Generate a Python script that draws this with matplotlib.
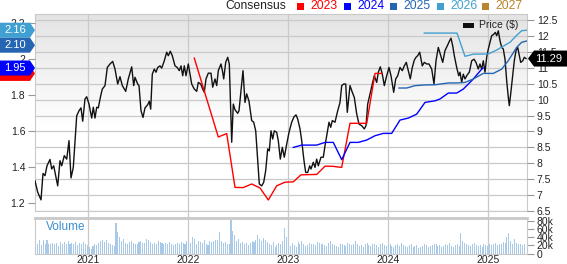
import numpy as np
import matplotlib
matplotlib.use('Agg')
import matplotlib.pyplot as plt
from matplotlib.patches import Polygon, Rectangle
from matplotlib.lines import Line2D
from matplotlib.colors import LinearSegmentedColormap
import matplotlib.transforms as mtransforms

plt.rcParams['font.family'] = ['Liberation Sans', 'DejaVu Sans']

# ---------------- data ----------------
price_t = [2020.470, 2020.497, 2020.530, 2020.550, 2020.570, 2020.590, 2020.620, 2020.637, 2020.657, 2020.697,
           2020.720, 2020.737, 2020.763, 2020.787, 2020.810, 2020.830, 2020.853, 2020.887, 2020.910, 2020.930,
           2020.947, 2020.970, 2020.987, 2021.010, 2021.037, 2021.053, 2021.070, 2021.087, 2021.103, 2021.127,
           2021.143, 2021.170, 2021.193, 2021.220, 2021.247, 2021.270, 2021.297, 2021.320, 2021.343, 2021.377,
           2021.403, 2021.437, 2021.457, 2021.470, 2021.497, 2021.510, 2021.530, 2021.550, 2021.570, 2021.597,
           2021.613, 2021.627, 2021.643, 2021.663, 2021.680, 2021.697, 2021.720, 2021.737, 2021.763, 2021.787,
           2021.803, 2021.823, 2021.843, 2021.870, 2021.893, 2021.913, 2021.930, 2021.947, 2021.963, 2021.980,
           2022.003, 2022.020, 2022.037, 2022.063, 2022.087, 2022.103, 2022.127, 2022.147, 2022.163, 2022.180,
           2022.203, 2022.230, 2022.247, 2022.270, 2022.287, 2022.303, 2022.330, 2022.347, 2022.357, 2022.377,
           2022.397, 2022.413, 2022.437, 2022.453, 2022.470, 2022.497, 2022.510, 2022.530, 2022.550, 2022.570,
           2022.587, 2022.610, 2022.637, 2022.657, 2022.677, 2022.697, 2022.713, 2022.737, 2022.757, 2022.777,
           2022.797, 2022.813, 2022.830, 2022.847, 2022.863, 2022.887, 2022.903, 2022.923, 2022.943, 2022.963,
           2022.987, 2023.010, 2023.037, 2023.060, 2023.080, 2023.097, 2023.120, 2023.137, 2023.160, 2023.177,
           2023.197, 2023.217, 2023.230, 2023.253, 2023.270, 2023.287, 2023.303, 2023.330, 2023.353, 2023.370,
           2023.390, 2023.410, 2023.427, 2023.443, 2023.470, 2023.497, 2023.520, 2023.537, 2023.557, 2023.577,
           2023.593, 2023.620, 2023.643, 2023.663, 2023.687, 2023.710, 2023.737, 2023.763, 2023.780, 2023.797,
           2023.820, 2023.843, 2023.863, 2023.887, 2023.903, 2023.923, 2023.943, 2023.963, 2023.987, 2024.010,
           2024.030, 2024.057, 2024.077, 2024.097, 2024.120, 2024.143, 2024.163, 2024.183, 2024.203, 2024.223,
           2024.243, 2024.263, 2024.280, 2024.297, 2024.317, 2024.343, 2024.363, 2024.387, 2024.410, 2024.437,
           2024.447, 2024.460, 2024.480, 2024.503, 2024.527, 2024.547, 2024.570, 2024.593, 2024.613, 2024.630,
           2024.647, 2024.663, 2024.687, 2024.707, 2024.720, 2024.737, 2024.753, 2024.770, 2024.793, 2024.813,
           2024.837, 2024.860, 2024.880, 2024.903, 2024.920, 2024.937, 2024.953, 2024.970, 2024.987, 2025.003,
           2025.020, 2025.037, 2025.053, 2025.073, 2025.087, 2025.103, 2025.120, 2025.137, 2025.153, 2025.170,
           2025.187, 2025.203, 2025.213, 2025.227, 2025.247, 2025.263, 2025.280, 2025.297, 2025.313, 2025.327,
           2025.347, 2025.363, 2025.380]
price_v = [7.45, 7.09, 6.85, 7.68, 7.61, 7.92, 8.12, 7.82, 7.92, 7.29,
           8.08, 7.92, 8.24, 8.13, 8.71, 7.54, 7.87, 9.49, 9.65, 9.74,
           9.32, 10.02, 10.09, 9.86, 9.42, 9.76, 9.42, 9.76, 9.74, 10.12,
           10.33, 10.44, 11.01, 11.12, 11.20, 10.96, 10.49, 10.72, 10.44, 10.26,
           10.65, 11.03, 10.44, 10.70, 10.49, 10.44, 9.65, 9.44, 9.74, 9.84,
           9.95, 9.70, 10.80, 10.96, 10.86, 11.01, 11.06, 10.99, 11.22, 11.49,
           11.38, 11.52, 11.38, 11.06, 11.01, 10.91, 11.06, 10.75, 11.06, 10.75,
           11.12, 10.80, 10.49, 10.33, 10.26, 10.54, 10.49, 10.33, 10.23, 10.65,
           10.83, 10.83, 10.39, 10.65, 10.44, 10.91, 11.12, 10.86, 10.65, 11.17,
           11.33, 11.12, 8.66, 9.86, 9.68, 9.57, 9.65, 10.28, 10.91, 9.91,
           10.18, 9.95, 9.34, 9.29, 9.02, 8.08, 7.35, 7.29, 7.40, 7.77,
           8.45, 8.39, 9.02, 8.76, 9.02, 8.97, 8.71, 8.13, 8.50, 8.19,
           8.60, 8.97, 9.29, 9.46, 9.52, 9.39, 9.08, 8.71, 8.08, 7.71,
           7.71, 7.92, 7.82, 8.03, 7.87, 8.13, 7.92, 8.19, 8.19, 8.55,
           8.92, 9.29, 9.13, 9.34, 9.29, 9.65, 9.91, 10.44, 10.49, 10.49,
           9.60, 10.44, 10.23, 10.07, 9.55, 9.23, 9.18, 9.08, 9.18, 9.86,
           10.18, 10.49, 10.75, 10.54, 10.86, 11.03, 10.80, 10.44, 10.75, 11.01,
           10.75, 10.23, 10.65, 10.75, 11.01, 10.91, 11.06, 11.17, 10.91, 10.65,
           11.01, 11.24, 11.33, 11.38, 11.49, 11.06, 11.17, 11.12, 11.12, 10.96,
           10.75, 10.49, 11.22, 11.64, 11.38, 11.17, 11.54, 11.69, 11.83, 11.93,
           11.69, 11.38, 11.01, 10.75, 10.86, 10.54, 10.80, 10.65, 10.78, 10.86,
           11.22, 11.27, 11.17, 10.96, 11.12, 10.96, 11.22, 10.86, 11.33, 11.59,
           11.80, 12.01, 12.04, 12.11, 12.01, 12.16, 11.85, 11.64, 11.59, 11.27,
           10.59, 10.07, 9.81, 10.18, 10.75, 11.22, 11.54, 11.64, 11.38, 11.17,
           11.22, 11.33, 11.29]

eps2023_t = [2022.063, 2022.187, 2022.303, 2022.387, 2022.470, 2022.553, 2022.637, 2022.720, 2022.803, 2022.887,
             2022.970, 2023.053, 2023.130, 2023.210, 2023.287, 2023.370, 2023.450, 2023.537, 2023.620, 2023.700,
             2023.787, 2023.870, 2023.937]
eps2023_v = [2.005, 1.778, 1.567, 1.586, 1.287, 1.286, 1.306, 1.284, 1.217, 1.296,
             1.316, 1.318, 1.357, 1.358, 1.359, 1.405, 1.404, 1.398, 1.643, 1.643,
             1.643, 1.920, 1.920]

eps2024_t = [2023.053, 2023.137, 2023.287, 2023.370, 2023.453, 2023.537, 2023.620, 2023.703, 2023.787, 2023.870,
             2023.953, 2024.037, 2024.120, 2024.203, 2024.287, 2024.370, 2024.470, 2024.520, 2024.603, 2024.687,
             2024.753, 2024.853, 2024.937, 2024.950]
eps2024_v = [1.509, 1.522, 1.522, 1.537, 1.537, 1.441, 1.537, 1.537, 1.550, 1.574,
             1.587, 1.587, 1.661, 1.672, 1.694, 1.759, 1.768, 1.778, 1.811, 1.811,
             1.833, 1.889, 1.944, 1.950]

eps2025_t = [2024.110, 2024.187, 2024.270, 2024.370, 2024.470, 2024.603, 2024.687, 2024.770, 2024.853, 2024.953,
             2025.053, 2025.137, 2025.203, 2025.287, 2025.337, 2025.387]
eps2025_v = [1.839, 1.839, 1.852, 1.856, 1.857, 1.867, 1.867, 1.870, 1.889, 1.920,
             1.920, 1.944, 1.991, 2.065, 2.093, 2.100]

eps2026_t = [2024.363, 2024.520, 2024.690, 2024.770, 2024.853, 2025.003, 2025.087, 2025.220, 2025.293, 2025.337,
             2025.387]
eps2026_v = [2.144, 2.144, 2.144, 2.015, 2.027, 2.028, 2.050, 2.093, 2.135, 2.157, 2.160]

last_price = 11.29

# weekly volume (thousands), first week ending mid-June 2020
vol_start = 2020.475
vol_k = [37, 22, 32, 20, 34, 24, 33, 22, 24, 25, 23, 26, 18, 28, 22, 27, 24, 30, 22, 26, 24, 28, 20, 25, 22, 27, 24, 20,
         15, 12, 18, 22, 20, 25, 30, 34, 28, 32, 26, 22, 20, 18, 75, 52, 40, 30, 35, 25, 22, 28, 30, 26, 24, 22, 28, 30,
         25, 26, 35, 32, 28, 24, 26, 22, 30, 28, 25, 22, 26, 24, 28, 22, 20, 24, 26, 22, 28, 25, 24, 30,
         28, 25, 40, 35, 22, 30, 28, 26, 32, 24, 20, 30, 28, 30, 33, 34, 52, 30, 26, 28, 22, 24, 82, 55, 45, 30, 35, 25,
         28, 22, 26, 20, 25, 30, 28, 34, 45, 35, 30, 38, 32, 28, 24, 20, 28, 15, 20, 25, 22, 30, 63, 40,
         22, 18, 25, 20, 16, 28, 24, 30, 22, 18, 20, 26, 24, 22, 20, 28, 25, 22, 24, 20, 18, 25, 30, 22, 20, 18, 16, 22,
         24, 20, 18, 26, 22, 20, 24, 30, 22, 18, 20, 16, 22, 25, 20, 18, 22, 24, 20, 16, 22, 25, 20, 18,
         20, 22, 18, 16, 20, 22, 18, 25, 20, 18, 15, 20, 22, 16, 18, 20, 14, 16, 18, 22, 20, 16, 18, 20, 22, 24, 18, 20,
         16, 18, 22, 20, 25, 18, 16, 20, 22, 18, 49, 30, 25, 22, 20, 18, 22, 25, 20, 18, 20, 16, 22, 20,
         18, 22, 20, 22, 25, 20, 24, 22, 28, 25, 40, 50, 30, 22, 35, 25, 22, 24, 20, 22]

years = [2021, 2022, 2023, 2024, 2025]
price_ticks = [6.5, 7, 7.5, 8, 8.5, 9, 9.5, 10, 10.5, 11, 11.5, 12, 12.5]
eps_ticks = [1.2, 1.4, 1.6, 1.8, 2.0, 2.2]
vol_ticks = [0, 20, 40, 60, 80]

legend_years = ['2023', '2024', '2025', '2026', '2027']
legend_colors = ['#ff0000', '#0000ff', '#2565b2', '#41a0d2', '#b8862e']

# ---------------- layout ----------------
W, H = 567, 264
fig = plt.figure(figsize=(W / 100, H / 100), dpi=100)
fig.patch.set_facecolor('white')

def fx(px):
    return px / W

def fy(py):
    return 1 - py / H

L, R = 35, 527
P_TOP, P_BOT = 14, 211
V_TOP, V_BOT = 218, 253.5
XMIN, XMAX = 2020.47, 2025.39
GRID = '#c9c9c9'
TXT = '#222222'

ax = fig.add_axes([fx(L), fy(P_BOT), (R - L) / W, (P_BOT - P_TOP) / H])
ax2 = ax.twinx()
axv = fig.add_axes([fx(L), fy(V_BOT), (R - L) / W, (V_BOT - V_TOP) / H])

ax.set_xlim(XMIN, XMAX)
ax.set_ylim(6.5, 12.69)
ax2.set_ylim(1.156, 2.25)
axv.set_xlim(XMIN, XMAX)
axv.set_ylim(0, 86.6)

# gradient background
grad = np.linspace(0, 1, 256)[:, None]
cmap = LinearSegmentedColormap.from_list('bg', [(0, '#ffffff'), (0.42, '#ffffff'), (1.0, '#e4e4e4')])
ax.imshow(grad, extent=[XMIN, XMAX, 6.5, 12.69], origin='lower', aspect='auto', cmap=cmap, zorder=0)

ax.set_yticks(price_ticks)
ax.set_yticklabels([('%g' % t) for t in price_ticks])
ax.yaxis.tick_right()
ax.set_xticks(years)
ax.tick_params(axis='x', length=0, labelbottom=False)
ax.tick_params(axis='y', length=5, color='#999999', labelsize=7.5, labelcolor=TXT, pad=2)
ax.grid(True, color=GRID, lw=0.9, zorder=1)
ax.set_axisbelow(False)
for s in ax.spines.values():
    s.set_color(GRID)

ax2.set_yticks(eps_ticks)
ax2.set_yticklabels([('%g' % t) for t in eps_ticks])
ax2.yaxis.tick_left()
ax2.tick_params(axis='y', length=5, color='#999999', labelsize=7.5, labelcolor=TXT, pad=2)
for s in ax2.spines.values():
    s.set_visible(False)

# price line
ax.plot(price_t, price_v, color='#111111', lw=1.0, zorder=3)

# EPS consensus lines
ax2.plot(eps2023_t, eps2023_v, color=legend_colors[0], lw=1.0, zorder=3)
ax2.plot(eps2024_t, eps2024_v, color=legend_colors[1], lw=1.0, zorder=3)
ax2.plot(eps2025_t, eps2025_v, color=legend_colors[2], lw=1.0, zorder=3)
ax2.plot(eps2026_t, eps2026_v, color=legend_colors[3], lw=1.0, zorder=3)

# volume
vol_t = vol_start + np.arange(len(vol_k)) / 52.18
axv.bar(vol_t, vol_k, width=0.55 / 52.18, color='#a9c9e8', zorder=2)
axv.set_xticks(years)
axv.set_xticklabels([str(y) for y in years])
axv.tick_params(axis='x', length=0, labelsize=7.5, labelcolor=TXT, pad=1.2)
axv.set_yticks(vol_ticks)
axv.set_yticklabels(['0' if v == 0 else '%dk' % v for v in vol_ticks])
axv.yaxis.tick_right()
axv.tick_params(axis='y', length=5, color='#999999', labelsize=7.5, labelcolor=TXT, pad=2)
axv.grid(True, axis='x', color=GRID, lw=0.9, zorder=1)
for s in axv.spines.values():
    s.set_color(GRID)
axv.spines['top'].set_linewidth(2)
axv.text(0.022, 0.74, 'Volume', transform=axv.transAxes, color='#3b8fd2', fontsize=8.5, va='center', ha='left')

# vertical grid lines through the gap between panels
bt = mtransforms.blended_transform_factory(ax.transData, fig.transFigure)
for y in years:
    fig.add_artist(Line2D([y, y], [fy(V_TOP), fy(P_BOT)], transform=bt, color=GRID, lw=0.9))

# ---------------- labels on axes ----------------
fig.canvas.draw()

def data_to_pxy(axis, val):
    disp = axis.transData.transform((XMIN, val))[1]
    return H - disp

def left_box(yc, color, text, z):
    h = 15
    pts = [(0, yc - h / 2), (30, yc - h / 2), (35, yc), (30, yc + h / 2), (0, yc + h / 2)]
    fig.add_artist(Polygon([(fx(a), fy(b)) for a, b in pts], closed=True, transform=fig.transFigure,
                           fc=color, ec='none', zorder=z))
    if text:
        fig.text(fx(15), fy(yc), text, color='white', ha='center', va='center', fontsize=8, zorder=z + 0.5)

# 2023 label sits beneath 2024 label
left_box(data_to_pxy(ax2, eps2023_v[-1]), legend_colors[0], None, 5)
labels = [(eps2026_v[-1], legend_colors[3], '%.2f' % 2.16),
          (eps2025_v[-1], legend_colors[2], '%.2f' % 2.10),
          (eps2024_v[-1], legend_colors[1], '%.2f' % 1.95)]
prev = -100
for v, c, t in labels:
    yc = max(data_to_pxy(ax2, v), prev + 15)
    left_box(yc, c, t, 6)
    prev = yc

# right price label
yc = data_to_pxy(ax, last_price)
h = 16
pts = [(528, yc), (534, yc - h / 2), (567, yc - h / 2), (567, yc + h / 2), (534, yc + h / 2)]
fig.add_artist(Polygon([(fx(a), fy(b)) for a, b in pts], closed=True, transform=fig.transFigure,
                       fc='#000000', ec='none', zorder=6))
fig.text(fx(549), fy(yc), '%.2f' % last_price, color='white', ha='center', va='center', fontsize=8, zorder=7)

# ---------------- legends ----------------
fig.text(fx(225), fy(6), 'Consensus', color=TXT, fontsize=8.7, ha='left', va='center')
sq_x = [297, 344, 390, 437, 482]
for xx, yr, c in zip(sq_x, legend_years, legend_colors):
    fig.add_artist(Rectangle((fx(xx), fy(9.5)), 7 / W, 7 / H, transform=fig.transFigure, fc=c, ec='none'))
    fig.text(fx(xx + 13), fy(6), yr, color=c, fontsize=8.7, ha='left', va='center')

fig.add_artist(Rectangle((fx(463), fy(27.5)), 11 / W, 5 / H, transform=fig.transFigure, fc='#111111', ec='none', zorder=8))
fig.text(fx(479), fy(25), 'Price ($)', color=TXT, fontsize=7.5, ha='left', va='center', zorder=8)

fig.savefig('out.png', dpi=100)
